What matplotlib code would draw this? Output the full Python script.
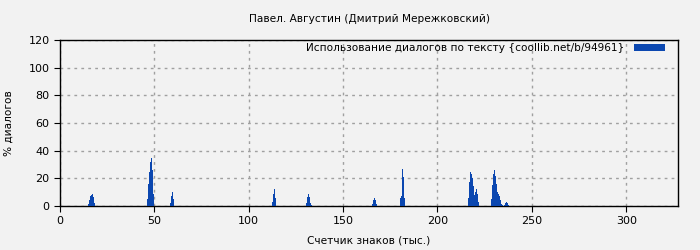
import matplotlib
matplotlib.use('Agg')
import matplotlib.pyplot as plt
import numpy as np

# bar width in thousands of characters (one bin)
bin_w = 0.53

# each cluster: start position (thousands of chars) and bar heights (% of dialogues)
starts = [14.8, 46.1, 58.3, 112.3, 130.4, 165.3, 179.9, 216.2, 228.4, 235.3]
heights = [
    [1.4, 4.3, 7.2, 8.0, 8.7, 6.5, 2.2],
    [5.0, 16.0, 24.6, 31.6, 34.7, 26.0, 8.7],
    [2.2, 7.2, 10.1, 5.0],
    [2.9, 8.7, 12.3, 5.8],
    [2.2, 6.5, 8.7, 6.5, 2.2, 0.7],
    [1.4, 4.3, 5.8, 4.3, 1.4],
    [6.0, 7.0, 27.0, 21.0, 6.0],
    [5.8, 17.4, 24.6, 23.1, 20.2, 14.5, 8.0, 10.1, 12.3, 8.7, 2.9],
    [5.0, 15.2, 23.1, 26.0, 21.7, 15.9, 10.1, 8.7, 7.2, 4.3, 1.4, 0.7],
    [0.7, 2.2, 2.9, 2.2, 0.7],
]

title = 'Павел. Августин (Дмитрий Мережковский)'
legend_label = 'Использование диалогов по тексту {coollib.net/b/94961}'
xlabel = 'Счетчик знаков (тыс.)'
ylabel = '% диалогов'

bg = '#f2f2f2'
blue = '#0b47b0'

xs, ys = [], []
for s, hs in zip(starts, heights):
    for i, h in enumerate(hs):
        xs.append(s + i * bin_w)
        ys.append(h)

fig = plt.figure(figsize=(7, 2.5), dpi=100, facecolor=bg)
ax = fig.add_axes([0.0857, 0.176, 0.883, 0.664], facecolor=bg)

ax.bar(xs, ys, width=bin_w, align='edge', color=blue, linewidth=0,
       label=legend_label, zorder=3)

ax.set_xlim(0, 327.5)
ax.set_ylim(0, 120)
ax.set_xticks(np.arange(0, 301, 50))
ax.set_yticks(np.arange(0, 121, 20))
ax.grid(True, color='#a0a0a0', linestyle=(0, (2, 3)), linewidth=1, zorder=0)
ax.tick_params(labelsize=8, length=4, direction='out', color='black')
for sp in ax.spines.values():
    sp.set_color('black')
    sp.set_linewidth(1)

ax.set_title(title, fontsize=7.6, pad=13)
ax.set_xlabel(xlabel, fontsize=7.6, labelpad=6.5)
ax.set_ylabel(ylabel, fontsize=7.6, labelpad=11)

leg = ax.legend(loc='upper right', fontsize=7.6, frameon=False,
                bbox_to_anchor=(1 - 9 / 618, 1 + 1 / 166), borderaxespad=0,
                handlelength=2.95, handleheight=0.55,
                markerfirst=False, handletextpad=0.9)

fig.savefig('out.png', dpi=100, facecolor=bg)
